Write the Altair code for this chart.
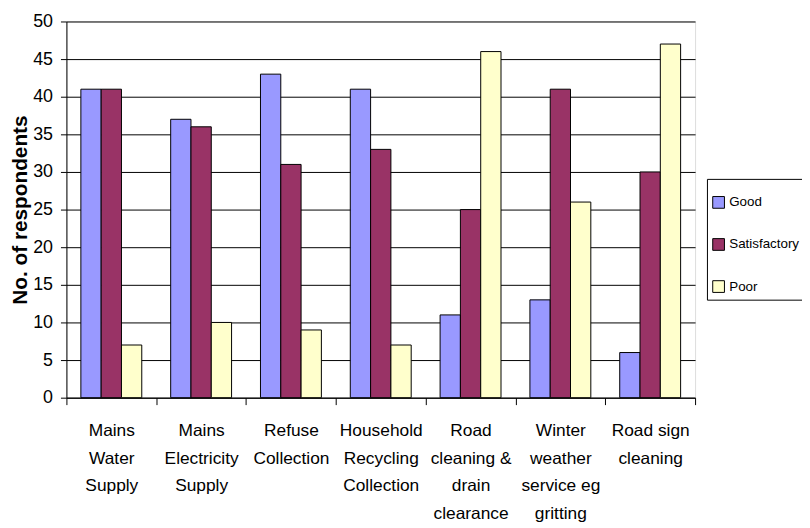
import altair as alt
import pandas as pd

categories = [
    "Mains Water Supply",
    "Mains Electricity Supply",
    "Refuse Collection",
    "Household Recycling Collection",
    "Road cleaning & drain clearance",
    "Winter weather service eg gritting",
    "Road sign cleaning",
]
label_lines = [
    ["Mains", "Water", "Supply"],
    ["Mains", "Electricity", "Supply"],
    ["Refuse", "Collection"],
    ["Household", "Recycling", "Collection"],
    ["Road", "cleaning &", "drain", "clearance"],
    ["Winter", "weather", "service eg", "gritting"],
    ["Road sign", "cleaning"],
]
series = ["Good", "Satisfactory", "Poor"]
good = [41, 37, 43, 41, 11, 13, 6]
satisfactory = [41, 36, 31, 33, 25, 41, 30]
poor = [7, 10, 9, 7, 46, 26, 47]
colors = ["#9999FF", "#993366", "#FFFFCC"]
y_ticks = list(range(0, 51, 5))

rows = []
for i, c in enumerate(categories):
    for s, vals in zip(series, [good, satisfactory, poor]):
        rows.append({"category": c, "series": s, "value": vals[i]})
df = pd.DataFrame(rows)

expr = ""
for c, lines in zip(categories, label_lines):
    arr = "[" + ",".join("'" + l + "'" for l in lines) + "]"
    expr += "datum.label == '" + c + "' ? " + arr + " : "
expr += "datum.label"

REG = "'Liberation Sans', Arial, sans-serif"

chart = alt.Chart(df).mark_bar(stroke="black", strokeWidth=1).encode(
    x=alt.X(
        "category:N",
        sort=categories,
        scale=alt.Scale(paddingInner=0, paddingOuter=0),
        axis=alt.Axis(
            title=None,
            labelAngle=0,
            labelExpr=expr,
            labelFont=REG,
            labelFontSize=17.5,
            labelLineHeight=28,
            labelColor="black",
            labelPadding=17,
            labelBaseline="top",
            tickBand="extent",
            tickSize=7,
            tickColor="black",
            domainColor="black",
            grid=False,
        ),
    ),
    xOffset=alt.XOffset(
        "series:N",
        sort=series,
        scale=alt.Scale(paddingInner=0, paddingOuter=0.712),
    ),
    y=alt.Y(
        "value:Q",
        scale=alt.Scale(domain=[0, 50], nice=False),
        axis=alt.Axis(
            title="No. of respondents",
            titleFont=REG,
            titleFontSize=21,
            titleFontWeight="bold",
            titleColor="black",
            titlePadding=2,
            values=y_ticks,
            labelFont=REG,
            labelFontSize=18,
            labelColor="black",
            labelPadding=8,
            tickSize=6,
            tickColor="black",
            domainColor="black",
            gridColor="black",
            gridWidth=1,
            gridOpacity=1,
        ),
    ),
    fill=alt.Fill(
        "series:N",
        sort=series,
        scale=alt.Scale(domain=series, range=colors),
        legend=alt.Legend(
            title=" ",
            titleFontSize=10,
            titlePadding=2,
            orient="none",
            legendX=647,
            legendY=159,
            padding=5,
            strokeColor="black",
            fillColor="white",
            symbolType="square",
            symbolSize=140,
            symbolStrokeColor="black",
            symbolStrokeWidth=1,
            labelFont=REG,
            labelFontSize=13.5,
            labelColor="black",
            labelOffset=4,
            rowPadding=25.5,
        ),
    ),
).properties(
    width=635,
    height=380,
    autosize=alt.AutoSizeParams(type="none"),
    padding={"left": 59, "top": 11, "right": 108, "bottom": 127},
).configure_view(
    fill="#C0C0C0",
    stroke="#808080",
    strokeWidth=1,
).configure(background="white")

chart.save("out.html", embed_options={"renderer": "svg", "actions": False})
